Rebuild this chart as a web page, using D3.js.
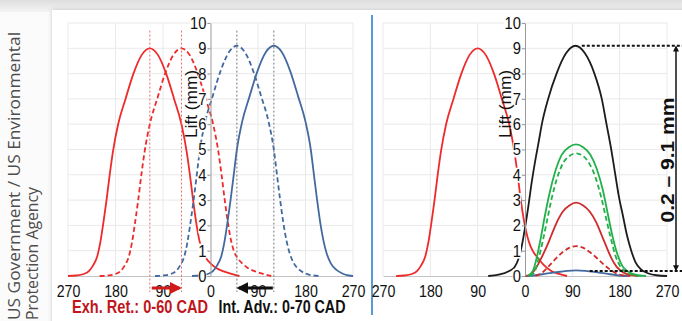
<!DOCTYPE html>
<html>
<head>
<meta charset="utf-8">
<script src="https://cdn.jsdelivr.net/npm/d3@7"></script>
<style>
  body { margin: 0; background: #fafafa; }
  svg { display: block; }
</style>
</head>
<body>
<div id="chart"></div>
<script>
// crank angle (deg, negative = before TDC) / valve lift (mm)

// left: cam phasing
var exhBase = [[-270,0],[-255,0.02],[-240,0.08],[-230,0.2],[-223,0.4],[-215,0.75],[-209,1.3],[-203,2.1],[-197,3.0],[-191,4.0],[-185,4.9],[-175,6.0],[-161,7.0],[-146,8.0],[-130,8.75],[-115,9.0],[-100,8.75],[-84,8.0],[-69,7.0],[-55,6.0],[-45,4.9],[-39,4.0],[-33,3.0],[-27,2.1],[-21,1.4],[-15,0.95],[-9,0.72],[0,0.5],[10,0.33],[25,0.18],[40,0.08],[55,0]];
var exhRet = [[-210,0],[-195,0.02],[-180,0.08],[-170,0.2],[-163,0.4],[-155,0.75],[-149,1.3],[-143,2.1],[-137,3.0],[-131,4.0],[-125,4.9],[-115,6.0],[-101,7.0],[-86,8.0],[-70,8.75],[-55,9.0],[-40,8.75],[-24,8.0],[-9,7.0],[5,6.0],[15,4.9],[21,4.0],[27,3.0],[33,2.1],[39,1.4],[45,0.95],[51,0.72],[60,0.5],[70,0.33],[85,0.18],[100,0.08],[115,0]];
var intBase = [[-35,0],[-20,0.02],[-5,0.08],[5,0.2],[12,0.4],[20,0.75],[26,1.3],[32,2.1],[38,3.0],[44,4.0],[50,5.0],[60,6.1],[74,7.1],[89,8.1],[105,8.85],[120,9.1],[135,8.85],[151,8.1],[166,7.1],[180,6.1],[190,5.0],[196,4.0],[202,3.0],[208,2.1],[214,1.4],[220,0.9],[228,0.5],[238,0.25],[250,0.1],[262,0.02],[270,0]];
var intAdv = [[-105,0],[-90,0.02],[-75,0.08],[-65,0.2],[-58,0.4],[-50,0.75],[-44,1.3],[-38,2.1],[-32,3.0],[-26,4.0],[-20,5.0],[-10,6.1],[4,7.1],[19,8.1],[35,8.85],[50,9.1],[65,8.85],[81,8.1],[96,7.1],[110,6.1],[120,5.0],[126,4.0],[132,3.0],[138,2.1],[144,1.4],[150,0.9],[158,0.5],[168,0.25],[180,0.1],[195,0.02],[210,0]];
var exhPeaks = [-115, -55];
var intPeaks = [120, 50];

// right: variable lift
var vvlExh = [[-245,0],[-230,0.02],[-215,0.08],[-205,0.2],[-198,0.4],[-190,0.75],[-184,1.3],[-178,2.1],[-172,3.0],[-166,4.0],[-160,4.9],[-150,6.0],[-136,7.0],[-121,8.0],[-105,8.75],[-90,9.0],[-75,8.75],[-59,8.0],[-44,7.0],[-30,6.0],[-20,4.9],[-14,4.0],[-8,3.0],[-2,2.2],[4,1.6],[10,1.2],[16,0.95],[25,0.7],[35,0.45],[50,0.2],[65,0.08],[80,0]];
var lift91 = [[-70,0],[-50,0.05],[-30,0.2],[-20,0.35],[-12,0.7],[-6,1.2],[0,1.9],[6,2.7],[12,3.6],[19,4.5],[26,5.3],[33,6.1],[44,7.0],[60,8.0],[78,8.8],[96,9.1],[114,8.8],[132,8.0],[146,7.0],[155,6.0],[164,5.0],[171,4.1],[178,3.2],[186,2.4],[194,1.6],[202,1.0],[210,0.55],[220,0.27],[235,0.1],[250,0.03],[270,0]];
var lift52 = [[5,0],[15,0.2],[22,0.7],[30,1.5],[38,2.4],[47,3.3],[57,4.1],[70,4.8],[84,5.1],[97,5.2],[110,5.1],[124,4.8],[137,4.2],[148,3.4],[157,2.5],[166,1.6],[175,0.9],[185,0.4],[198,0.15],[215,0.03],[230,0]];
var lift49 = [[10,0],[19,0.2],[26,0.7],[34,1.4],[42,2.2],[50,3.0],[60,3.8],[72,4.45],[85,4.75],[97,4.85],[110,4.75],[122,4.45],[134,3.9],[145,3.1],[154,2.3],[163,1.5],[172,0.8],[182,0.35],[195,0.12],[212,0.02],[225,0]];
var lift29 = [[0,0],[10,0.05],[22,0.35],[32,0.75],[41,1.15],[50,1.6],[60,2.1],[72,2.55],[85,2.8],[97,2.9],[110,2.8],[123,2.55],[136,2.1],[146,1.6],[155,1.15],[164,0.72],[174,0.37],[186,0.15],[200,0.04],[215,0]];
var lift12 = [[20,0],[35,0.17],[48,0.45],[60,0.72],[72,0.95],[85,1.12],[97,1.18],[110,1.12],[123,0.95],[136,0.72],[150,0.45],[168,0.17],[185,0.03],[200,0]];
var lift02 = [[0,0],[20,0.03],[40,0.09],[60,0.15],[80,0.2],[97,0.22],[115,0.2],[135,0.15],[155,0.09],[175,0.03],[195,0]];
var liftRange = [0.2, 9.1];

var xTicks = [-270, -180, -90, 0, 90, 180, 270];
var yTicks = [0, 1, 2, 3, 4, 5, 6, 7, 8, 9, 10];

var RED = '#ee2a2a', DRED = '#cf2b2b', BLUE = '#43699f', GREEN = '#22b04a', BLACK = '#1c1c1c';

var W = 682, H = 321;
var svg = d3.select('#chart').append('svg')
    .attr('width', W).attr('height', H)
    .style('font-family', "'Liberation Sans', Arial, sans-serif");

var defs = svg.append('defs');
var g1 = defs.append('linearGradient').attr('id', 'topband').attr('x1', 0).attr('y1', 0).attr('x2', 0).attr('y2', 1);
g1.append('stop').attr('offset', 0).attr('stop-color', '#dedede');
g1.append('stop').attr('offset', 1).attr('stop-color', '#f4f4f4');
defs.append('filter').attr('id', 'shadow').attr('x', -0.05).attr('y', -0.05).attr('width', 1.1).attr('height', 1.1)
    .append('feDropShadow').attr('dx', 0).attr('dy', 0).attr('stdDeviation', 2)
    .attr('flood-color', '#000').attr('flood-opacity', 0.2);

function arrowHead(id, color) {
    defs.append('marker').attr('id', id)
        .attr('viewBox', '0 0 10 10').attr('refX', 8).attr('refY', 5)
        .attr('markerWidth', 4).attr('markerHeight', 4).attr('orient', 'auto-start-reverse')
        .append('path').attr('d', 'M0,0L10,5L0,10z').attr('fill', color);
}
arrowHead('ahRed', '#d01a1a');
arrowHead('ahBlack', '#111');
arrowHead('ahThin', '#111');

// page + card
svg.append('rect').attr('width', W).attr('height', H).attr('fill', '#fbfbfb');
svg.append('rect').attr('width', W).attr('height', 12).attr('fill', 'url(#topband)');
svg.append('rect').attr('x', 52).attr('y', 10).attr('width', W - 52 + 10).attr('height', H)
    .attr('fill', '#fff').attr('filter', 'url(#shadow)');

// credit on the left margin
var credit = svg.append('g').attr('fill', '#4d4d4d')
    .style('font-family', "'Open Sans', sans-serif").style('font-size', '17px');
credit.append('text').attr('transform', 'translate(19.5,320) rotate(-90)')
    .attr('textLength', 288).attr('lengthAdjust', 'spacingAndGlyphs')
    .text('US Government / US Environmental');
credit.append('text').attr('transform', 'translate(37.5,320) rotate(-90)')
    .attr('textLength', 133).attr('lengthAdjust', 'spacingAndGlyphs')
    .text('Protection Agency');

// separator
svg.append('line').attr('x1', 372).attr('x2', 372).attr('y1', 15).attr('y2', 315)
    .attr('stroke', '#5b9bd5').attr('stroke-width', 2);

var y = d3.scaleLinear().domain([0, 10]).range([276, 23]);

function panel(x0, x1, series) {
    var x = d3.scaleLinear().domain([-270, 270]).range([x0, x1]);
    var g = svg.append('g');

    // grid
    g.selectAll('line.hg').data(yTicks.slice(1)).enter().append('line')
        .attr('x1', x0).attr('x2', x1).attr('y1', y).attr('y2', y)
        .attr('stroke', '#e9e9e9').attr('stroke-width', 1);
    g.selectAll('line.vg').data(xTicks.filter(function (d) { return d !== 0; })).enter().append('line')
        .attr('x1', x).attr('x2', x).attr('y1', y(10)).attr('y2', y(0))
        .attr('stroke', '#e9e9e9').attr('stroke-width', 1);

    // x axis
    var xa = g.append('g').attr('transform', 'translate(0,' + y(0) + ')')
        .call(d3.axisBottom(x).tickValues(xTicks).tickSize(0).tickPadding(9)
            .tickFormat(function (d) { return Math.abs(d); }));
    xa.select('.domain').attr('stroke', '#c4c4c4');
    xa.selectAll('text').attr('fill', '#111').style('font-size', '17px')
        .attr('textLength', function (d) { return String(Math.abs(d)).length * 7.9; })
        .attr('lengthAdjust', 'spacingAndGlyphs');

    var line = d3.line()
        .x(function (d) { return x(d[0]); })
        .y(function (d) { return y(d[1]); })
        .curve(d3.curveMonotoneX);

    var curves = g.append('g');
    series.forEach(function (s) {
        curves.append('path').datum(s.data)
            .attr('d', line)
            .attr('fill', 'none')
            .attr('stroke', s.color)
            .attr('stroke-width', s.width || 1.8)
            .attr('stroke-dasharray', s.dash || null);
    });

    // y axis, labels boxed in white like the original
    var xZero = x(0);
    var ya = g.append('g').attr('transform', 'translate(' + xZero + ',0)')
        .call(d3.axisLeft(y).tickValues(yTicks).tickSize(3).tickSizeOuter(0).tickPadding(1));
    ya.select('.domain').attr('stroke', '#9a9a9a');
    ya.selectAll('line').attr('stroke', '#9a9a9a');
    ya.selectAll('text').attr('fill', '#111').style('font-size', '17px')
        .attr('textLength', function (d) { return String(d).length * 8.2; })
        .attr('lengthAdjust', 'spacingAndGlyphs');
    ya.selectAll('.tick').each(function () {
        var t = d3.select(this).select('text');
        var b = t.node().getBBox();
        d3.select(this).insert('rect', 'text')
            .attr('x', b.x).attr('y', b.y + 2).attr('width', b.width).attr('height', b.height - 4)
            .attr('fill', '#fff');
    });

    g.append('text')
        .attr('transform', 'translate(' + (xZero - 14) + ',104) rotate(-90)')
        .attr('text-anchor', 'middle')
        .attr('fill', '#111').style('font-size', '16px')
        .attr('textLength', 68).attr('lengthAdjust', 'spacingAndGlyphs')
        .text('Lift (mm)');

    return {x: x, g: g};
}

// left panel
var L = panel(68, 353, [
    {data: exhBase, color: RED},
    {data: exhRet, color: RED, dash: '5,3'},
    {data: intBase, color: BLUE},
    {data: intAdv, color: BLUE, dash: '5,3'}
]);

L.g.selectAll('line.ep').data(exhPeaks).enter().append('line')
    .attr('x1', L.x).attr('x2', L.x).attr('y1', y(9.7)).attr('y2', 292)
    .attr('stroke', '#e86a6a').attr('stroke-width', 1).attr('stroke-dasharray', '2,2');
L.g.selectAll('line.ip').data(intPeaks).enter().append('line')
    .attr('x1', L.x).attr('x2', L.x).attr('y1', y(9.7)).attr('y2', 292)
    .attr('stroke', '#777').attr('stroke-width', 1).attr('stroke-dasharray', '2,2');

L.g.append('line')
    .attr('x1', L.x(exhPeaks[0]) + 2).attr('x2', L.x(exhPeaks[1]) - 2)
    .attr('y1', 288).attr('y2', 288)
    .attr('stroke', '#d01a1a').attr('stroke-width', 3).attr('marker-end', 'url(#ahRed)');
L.g.append('line')
    .attr('x1', L.x(intPeaks[0]) - 1).attr('x2', L.x(intPeaks[1]) + 2)
    .attr('y1', 288).attr('y2', 288)
    .attr('stroke', '#111').attr('stroke-width', 3).attr('marker-end', 'url(#ahBlack)');

L.g.append('text').attr('x', 140).attr('y', 313).attr('text-anchor', 'middle')
    .attr('fill', '#c0161c').style('font-size', '18px').style('font-weight', 'bold')
    .attr('textLength', 136).attr('lengthAdjust', 'spacingAndGlyphs')
    .text('Exh. Ret.: 0-60 CAD');
L.g.append('text').attr('x', 282).attr('y', 313).attr('text-anchor', 'middle')
    .attr('fill', '#111').style('font-size', '18px').style('font-weight', 'bold')
    .attr('textLength', 127).attr('lengthAdjust', 'spacingAndGlyphs')
    .text('Int. Adv.: 0-70 CAD');

// right panel
var R = panel(383, 667, [
    {data: vvlExh, color: RED},
    {data: lift02, color: BLUE},
    {data: lift12, color: DRED, dash: '5,3'},
    {data: lift29, color: DRED},
    {data: lift49, color: GREEN, dash: '5,3'},
    {data: lift52, color: GREEN},
    {data: lift91, color: BLACK}
]);

R.g.selectAll('line.lim').data(liftRange).enter().append('line')
    .attr('x1', function (d, i) { return R.x(i ? 108 : 123); }).attr('x2', W)
    .attr('y1', y).attr('y2', y)
    .attr('stroke', '#111').attr('stroke-width', 2).attr('stroke-dasharray', '3,2');
R.g.append('line')
    .attr('x1', 676).attr('x2', 676)
    .attr('y1', y(liftRange[0]) - 1).attr('y2', y(liftRange[1]) + 1)
    .attr('stroke', '#111').attr('stroke-width', 1.5)
    .attr('marker-start', 'url(#ahThin)').attr('marker-end', 'url(#ahThin)');
R.g.append('text')
    .attr('transform', 'translate(674,160) rotate(-90)')
    .attr('text-anchor', 'middle')
    .attr('fill', '#111').style('font-size', '18px').style('font-weight', 'bold')
    .attr('textLength', 125).attr('lengthAdjust', 'spacingAndGlyphs')
    .text(liftRange[0] + ' \u2013 ' + liftRange[1] + ' mm');
</script>
</body>
</html>
